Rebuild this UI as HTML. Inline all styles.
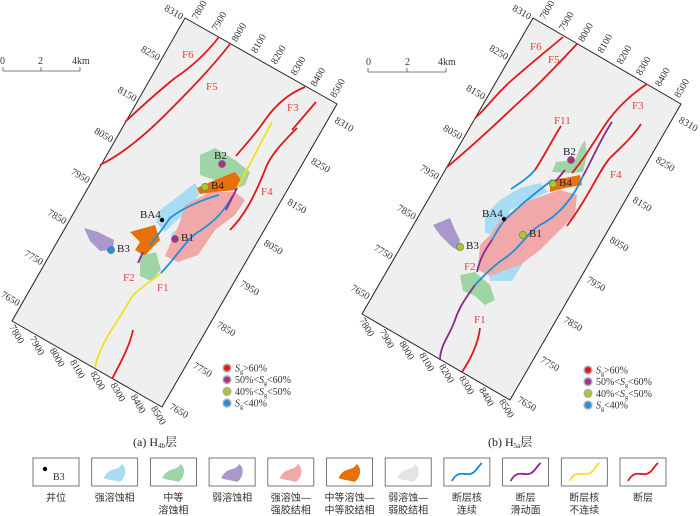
<!DOCTYPE html>
<html><head><meta charset="utf-8"><style>
body{margin:0;background:#fff;}
svg{display:block;font-family:"Liberation Serif","Noto Serif CJK SC",serif;}
.tk{font-size:10px;fill:#333;}
.fl{font-size:11px;fill:#e8403a;}
.wl{font-size:11px;fill:#222;}
.lg{font-size:10px;fill:#333;}
.cap{font-size:12px;fill:#222;}
.bl{font-size:10px;fill:#333;font-family:"Liberation Sans","Noto Sans CJK SC",sans-serif;}
</style></head><body>
<svg id="s" width="700" height="516" viewBox="0 0 700 516">

<!-- Panel A -->
<g>
<polygon points="185,18 337,104 162,407 12,321" fill="#efefef" stroke="#222" stroke-width="1"/>
<g>
<polygon points="200,155 215,148 235,160 250,172 245,185 232,190 215,180 200,175" fill="#9fd4a6"/>
<polygon points="160,210 180,195 195,183 200,192 190,210 175,222 165,232 156,222" fill="#a8dcf4"/>
<polygon points="172,232 192,224 202,240 188,252 170,250" fill="#a8dcf4"/>
<polygon points="185,205 210,192 235,192 245,200 235,215 215,230 198,255 178,262 165,256 172,240 180,222" fill="#f0a8a8"/>
<polygon points="197,188 215,180 235,172 241,180 237,190 215,192 200,194" fill="#e8700a"/>
<polygon points="130,232 155,225 160,240 150,250 145,256 135,250 140,242" fill="#e8700a"/>
<polygon points="84,228 98,232 114,240 113,250 100,251 90,241" fill="#a898cc"/>
<polygon points="140,256 156,252 161,270 151,281 140,276" fill="#9fd4a6"/>
</g>
<g fill="none" stroke-width="1.8">
<path d="M219,37 C205,55 190,68 175,78 C160,90 140,108 125,122" stroke="#e01818"/>
<path d="M230,44 C210,70 185,95 165,115 C140,140 120,155 100,165" stroke="#e01818"/>
<path d="M305,87 C285,95 272,110 265,120 C255,135 245,145 236,156" stroke="#e01818"/>
<path d="M316,102 L292,130" stroke="#e01818"/>
<path d="M297,128 C285,140 270,155 265,170 C255,195 245,215 230,230" stroke="#e01818"/>
<path d="M133,330 C130,345 122,360 112,379" stroke="#e01818"/>
<path d="M272,122 C262,140 250,165 237,188" stroke="#f0e020"/>
<path d="M161,273 C150,283 135,290 130,300 C122,315 110,330 103,345 C98,355 96,362 95,368" stroke="#f0e020"/>
<path d="M219,195 C200,200 180,210 170,218 C163,228 156,238 150,245" stroke="#2090d8"/>
<path d="M233,195 C225,210 215,222 195,234 C185,242 178,255 161,273" stroke="#2090d8"/>
<path d="M237,188 L226,210" stroke="#8a2a88"/>
<path d="M143,252 L138,263" stroke="#8a2a88"/>
</g>
<text class="fl" x="182" y="58">F6</text>
<text class="fl" x="206" y="90">F5</text>
<text class="fl" x="287" y="111">F3</text>
<text class="fl" x="261" y="195">F4</text>
<text class="fl" x="123" y="281">F2</text>
<text class="fl" x="157" y="291">F1</text>
</g>

<!-- Panel B -->
<g>
<polygon points="533,18 681,104 510,400 362,314" fill="#efefef" stroke="#222" stroke-width="1"/>
<g>
<polygon points="575,160 580,148 585,140 587,155 583,172 570,173 552,172 556,162" fill="#9fd4a6"/>
<polygon points="485,215 500,200 520,188 540,183 548,192 530,200 510,210 505,225 495,235 485,233" fill="#a8dcf4"/>
<polygon points="487,262 505,250 515,240 525,260 512,281 490,281" fill="#a8dcf4"/>
<polygon points="500,220 530,200 560,190 577,195 575,215 560,230 540,250 520,265 505,270 490,276 478,270 480,245 490,235" fill="#f0a8a8"/>
<polygon points="550,180 565,178 580,175 582,185 565,188 550,192" fill="#e8700a"/>
<polygon points="433,225 450,218 455,230 460,240 458,250 452,247 440,235" fill="#a898cc"/>
<polygon points="460,275 475,272 490,285 495,300 485,305 475,296 463,291" fill="#9fd4a6"/>
</g>
<g fill="none" stroke-width="1.8">
<path d="M563,37 C550,48 535,60 512,80 C495,95 485,110 475,118" stroke="#e01818"/>
<path d="M577,44 C560,62 545,78 530,92 C510,110 480,140 447,167" stroke="#e01818"/>
<path d="M561,126 C552,140 545,155 535,170" stroke="#e01818"/>
<path d="M535,170 C528,178 520,183 511,189" stroke="#2090d8"/>
<path d="M647,84 C630,95 615,110 605,125 C595,140 585,158 572,173" stroke="#e01818"/>
<path d="M641,124 C632,138 620,148 610,158 C598,172 590,195 567,226" stroke="#e01818"/>
<path d="M480,328 C478,345 470,360 462,372" stroke="#e01818"/>
<path d="M612,122 C600,140 592,160 583,176" stroke="#8a2a88"/>
<path d="M583,176 C575,195 560,215 540,225 C528,232 520,248 505,258 C490,268 480,280 475,285" stroke="#2090d8"/>
<path d="M475,285 C468,295 460,305 455,320 C450,335 440,345 440,360" stroke="#8a2a88"/>
<path d="M552,180 C540,190 525,200 505,220 C498,228 495,235 492,240" stroke="#2090d8"/>
<path d="M492,240 C485,250 480,258 477,272" stroke="#8a2a88"/>
<path d="M565,170 L555,182" stroke="#8a2a88"/>
</g>
<text class="fl" x="530" y="50">F6</text>
<text class="fl" x="548" y="63">F5</text>
<text class="fl" x="554" y="124">F11</text>
<text class="fl" x="632" y="109">F3</text>
<text class="fl" x="610" y="178">F4</text>
<text class="fl" x="464" y="270">F2</text>
<text class="fl" x="474" y="323">F1</text>
</g>

<g id="ticks"></g>
<g id="wells"></g>

<g>
<text x="0" y="64" class="tk">0</text><text x="38" y="64" class="tk">2</text><text x="72" y="64" class="tk">4km</text>
<path d="M3,67 V71 H80 V67 M41,71 V67" fill="none" stroke="#555" stroke-width="0.8"/>
</g>
<g>
<text x="366" y="65" class="tk">0</text><text x="405" y="65" class="tk">2</text><text x="438" y="65" class="tk">4km</text>
<path d="M368,68 V72 H446 V68 M407,72 V68" fill="none" stroke="#555" stroke-width="0.8"/>
</g>

<g id="leg"></g>

<text class="cap" x="133" y="446">(a) H<tspan font-size="7" dy="2">4b</tspan><tspan dy="-2" font-family="Noto Serif CJK SC">层</tspan></text>
<text class="cap" x="488" y="446">(b) H<tspan font-size="7" dy="2">5a</tspan><tspan dy="-2" font-family="Noto Serif CJK SC">层</tspan></text>

<g id="blegend"></g>
</svg>
<script>
const NS='http://www.w3.org/2000/svg';
const topLabels=['7800','7900','8000','8100','8200','8300','8400','8500'];
const sideLabels=['8310','8250','8150','8050','7950','7850','7750','7650'];
function mk(tag,attrs,parent,txt){const e=document.createElementNS(NS,tag);for(const k in attrs)e.setAttribute(k,attrs[k]);if(txt!==undefined)e.textContent=txt;parent.appendChild(e);return e;}
const tg=document.getElementById('ticks');
function panelTicks(T,R,B,L){
  const lerp=(a,b,t)=>[a[0]+(b[0]-a[0])*t,a[1]+(b[1]-a[1])*t];
  topLabels.forEach((s,i)=>{const p=lerp(T,R,0.06+i*0.13);
    const e=mk('text',{class:'tk',x:p[0]+3,y:p[1]-3,transform:`rotate(-60 ${p[0]+3} ${p[1]-3})`},tg,s);
    
    });
  topLabels.forEach((s,i)=>{const p=lerp(L,B,0.0+i*0.135);
    const e=mk('text',{class:'tk',x:p[0]-3,y:p[1]+6,transform:`rotate(60 ${p[0]-3} ${p[1]+6})`},tg,s);
    
    });
  sideLabels.forEach((s,i)=>{const p=lerp(T,L,0.0+i*0.135);
    const e=mk('text',{class:'tk','text-anchor':'end',x:p[0]-4,y:p[1]+2,transform:`rotate(30 ${p[0]-4} ${p[1]+2})`},tg,s);
    
    });
  sideLabels.forEach((s,i)=>{const p=lerp(R,B,0.04+i*0.135);
    const e=mk('text',{class:'tk',x:p[0]+4,y:p[1]+6,transform:`rotate(30 ${p[0]+4} ${p[1]+6})`},tg,s);
    
    });
}
panelTicks([185,18],[337,104],[162,407],[12,321]);
panelTicks([533,18],[681,104],[510,400],[362,314]);

const C={red:'#e8141c',pur:'#a8308c',yg:'#a8cc20',blu:'#1e90e0',blk:'#000'};
const wellNames=['B2','B4','BA4','B1','B3','B2','B4','BA4','B1','B3'];
const wellX=[222,205,162,175,111,571,553,504,523,460];
const wellY=[164,187,220,239,250,160,184,219,235,247];
const wellC=['pur','yg','blk','pur','blu','pur','yg','blk','yg','yg'];
const wg=document.getElementById('wells');
wellNames.forEach((n,i)=>{
  const r=wellC[i]==='blk'?2.2:3.6;
  const c=mk('circle',{cx:wellX[i],cy:wellY[i],r:r,fill:C[wellC[i]],stroke:wellC[i]==='blk'?'none':'#777','stroke-width':0.7},wg);
  
  
  const dx=n==='BA4'?-22:(n==='B2'?-8:6), dy=n==='B2'?-5:(n==='BA4'?-2:2);
  const t=mk('text',{class:'wl',x:wellX[i]+dx,y:wellY[i]+dy},wg,n);
  
  
});

const legC=['red','pur','yg','blu'];
const legPre=['','50%<','40%<',''];
const legPost=['>60%','<60%','<50%','<40%'];
const lg=document.getElementById('leg');
[[227,368],[588,370]].forEach(([x,y])=>{
  legC.forEach((c,i)=>{
    const cy=y+i*11.7;
    const ci=mk('circle',{cx:x,cy:cy,r:3.8,fill:C[c],stroke:'#aaa','stroke-width':1.5},lg);
    
    
    const t=mk('text',{class:'lg',x:x+8,y:cy+3.5},lg);
    
    
    mk('tspan',{},t,legPre[i]);
    mk('tspan',{'font-style':'italic'},t,'S');
    mk('tspan',{'font-size':6,dy:2},t,'g');
    mk('tspan',{dy:-2},t,legPost[i]);
  });
});

const bl=document.getElementById('blegend');
const bNames=[['井位'],['强溶蚀相'],['中等','溶蚀相'],['弱溶蚀相'],['强溶蚀—','强胶结相'],['中等溶蚀—','中等胶结相'],['弱溶蚀—','弱胶结相'],['断层核','连续'],['断层','滑动面'],['断层核','不连续'],['断层']];
const bFill=[null,'#a8dcf4','#9fd4a6','#a898cc','#f0a8a8','#e8700a','#e4e4e4','#1e88d8','#8a2a88','#f0e020','#e01818'];
bNames.forEach((lab,i)=>{
  const x=33+i*58.7, y=458;
  const r=mk('rect',{x:x,y:y,width:46,height:28,fill:'#fff',stroke:'#555','stroke-width':0.8},bl);
  
  
  if(i===0){mk('circle',{cx:x+12,cy:y+11,r:2.2,fill:'#000'},bl);mk('text',{class:'tk',x:x+20,y:y+22},bl,'B3');}
  else if(i<7){const p=mk('path',{d:`M${x+12},${y+20} C${x+18},${y+8} ${x+26},${y+14} ${x+30},${y+6} C${x+36},${y+10} ${x+34},${y+20} ${x+28},${y+24} C${x+22},${y+22} ${x+16},${y+22} ${x+12},${y+20}Z`,fill:bFill[i]},bl);
    
    }
  else{const p=mk('path',{d:`M${x+8},${y+23} C${x+14},${y+12} ${x+20},${y+17} ${x+26},${y+16} C${x+32},${y+15} ${x+34},${y+8} ${x+38},${y+5}`,fill:'none',stroke:bFill[i],'stroke-width':1.8},bl);
    
    }
  lab.forEach((s,j)=>{const t=mk('text',{class:'bl','text-anchor':'middle',x:x+23,y:501+j*12.5},bl,s);
    
    });
});
</script>
</body></html>
